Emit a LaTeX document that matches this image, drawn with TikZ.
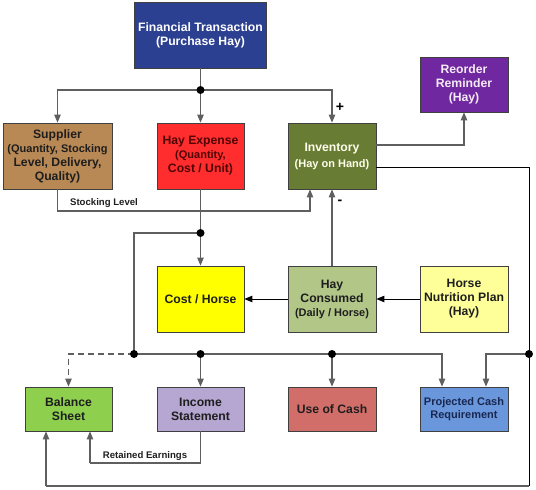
\documentclass[tikz,border=0pt]{standalone}
\usepackage{fontspec}
\setmainfont{Liberation Sans}
\usetikzlibrary{arrows.meta,calc}
\definecolor{cfin}{RGB}{44,64,145}
\definecolor{csup}{RGB}{185,137,85}
\definecolor{cexp}{RGB}{255,45,45}
\definecolor{cexpt}{RGB}{80,5,5}
\definecolor{cinv}{RGB}{104,124,52}
\definecolor{creo}{RGB}{112,40,160}
\definecolor{ccost}{RGB}{255,255,0}
\definecolor{ccon}{RGB}{178,198,136}
\definecolor{cnut}{RGB}{255,255,153}
\definecolor{cbal}{RGB}{142,208,78}
\definecolor{cinc}{RGB}{181,166,210}
\definecolor{cuse}{RGB}{210,110,105}
\definecolor{cproj}{RGB}{106,151,220}
\definecolor{cprojt}{RGB}{25,40,80}
\definecolor{ctxt}{RGB}{30,30,30}
\definecolor{cline}{RGB}{95,95,95}
\newcommand{\tfont}{\fontsize{12.2bp}{14bp}\selectfont}
\newcommand{\sfnt}{\fontsize{11bp}{13.3bp}\selectfont}
\begin{document}
\begin{tikzpicture}[x=1bp,y=-1bp,
  box/.style={draw=black!75, line width=0.8bp, align=center, inner sep=1bp,
    text=ctxt, font=\bfseries\tfont},
  conn/.style={draw=cline, line width=1.1bp},
  arr/.style={conn, -{Triangle[length=8bp,width=6.5bp]}},
  lbl/.style={font=\bfseries\fontsize{9.6bp}{11bp}\selectfont, text=ctxt, inner sep=0pt},
  dot/.style={fill=black}]
\useasboundingbox (0,0) rectangle (536,490);
% boxes
\node[box, fill=cfin, text=white, minimum width=132bp, minimum height=66bp] (fin) at (200.5,35) {Financial Transaction\\(Purchase Hay)};
\node[box, fill=csup, minimum width=109bp, minimum height=66bp] (sup) at (57.5,156) {Supplier\\\sfnt(Quantity, Stocking\\Level, Delivery,\\Quality)};
\node[box, fill=cexp, text=cexpt, minimum width=87bp, minimum height=66bp] (exp) at (200.5,156) {Hay Expense\\\sfnt(Quantity,\\Cost / Unit)};
\node[box, fill=cinv, text=white!92!yellow, minimum width=88bp, minimum height=66bp] (inv) at (332,156) {Inventory\\[2bp]\sfnt(Hay on Hand)};
\node[box, fill=creo, text=white!92!violet, minimum width=88bp, minimum height=55bp] (reo) at (464,84.5) {Reorder\\Reminder\\(Hay)};
\node[box, fill=ccost, minimum width=87bp, minimum height=66bp] (cost) at (200.5,299) {Cost / Horse};
\node[box, fill=ccon, minimum width=88bp, minimum height=66bp] (con) at (332,299) {Hay\\Consumed\\\sfnt(Daily / Horse)};
\node[box, fill=cnut, minimum width=88bp, minimum height=66bp] (nut) at (464,299) {Horse\\Nutrition Plan\\(Hay)};
\node[box, fill=cbal, minimum width=87bp, minimum height=44bp] (bal) at (68.5,409) {Balance\\Sheet};
\node[box, fill=cinc, minimum width=87bp, minimum height=44bp] (inc) at (200.5,409) {Income\\Statement};
\node[box, fill=cuse, minimum width=88bp, minimum height=44bp] (use) at (332,409) {Use of Cash};
\node[box, fill=cproj, text=cprojt, font=\bfseries\sfnt, minimum width=88bp, minimum height=44bp] (proj) at (464,409) {Projected Cash\\Requirement};
% junctions
\coordinate (j1) at (200.5,90);
\coordinate (j2) at (200.5,233);
\coordinate (j3) at (134,354);
\coordinate (j4) at (200.5,354);
\coordinate (j6) at (332,354);
\coordinate (j5) at (529,354);
\coordinate (sl) at (310,211);
\coordinate (re) at (90,463);
\coordinate (rb) at (529,486);
\coordinate (lb) at (46,486);
% connectors
\draw[conn] (fin.south) -- (j1);
\draw[arr] (j1) -| (sup.north);
\draw[arr] (j1) -- (exp.north);
\draw[arr] (j1) -| (inv.north);
\node[font=\bfseries\fontsize{14bp}{14bp}\selectfont, inner sep=0pt] (plus) at (340,107) {+};
\draw[arr] (sup.south) |- (sl) -- (sl |- inv.south);
\node[lbl, anchor=base] (stl) at (104,206) {Stocking Level};
\draw[arr] ([yshift=11bp]inv.east) -| (reo.south);
\draw[conn, draw=black, line width=0.9bp] ([yshift=-11bp]inv.east) -| (rb);
\draw[conn] (rb) -- (lb);
\draw[arr] (lb) -- (lb |- bal.south);
\draw[arr] (j5) -| ([xshift=22bp]proj.north);
\draw[conn] (exp.south) -- (j2);
\draw[arr] (j2) -- (cost.north);
\draw[conn] (j2) -| (j3);
\draw[arr] (con.north) -- (inv.south);
\node[font=\bfseries\fontsize{14bp}{14bp}\selectfont, inner sep=0pt] (minus) at (340,202) {-};
\draw[arr, draw=black, line width=0.9bp] (nut.west) -- (con.east);
\draw[arr, draw=black, line width=0.9bp] (con.west) -- (cost.east);
\draw[conn] (j3) -- (j4) -- (j6);
\draw[arr] (j6) -| ([xshift=-22bp]proj.north);
\draw[arr] (j4) -- (inc.north);
\draw[arr] (j6) -- (use.north);
\draw[arr, dash pattern=on 6bp off 4bp] (j3) -| (bal.north);
\draw[conn] (inc.south) |- (re);
\draw[arr] (re) -- (re |- bal.south);
\node[lbl, anchor=base] (ret) at (145,458.5) {Retained Earnings};
% dots
\foreach \p in {j1,j2,j3,j4,j6,j5} \fill[dot] (\p) circle (4bp);
\end{tikzpicture}
\end{document}
